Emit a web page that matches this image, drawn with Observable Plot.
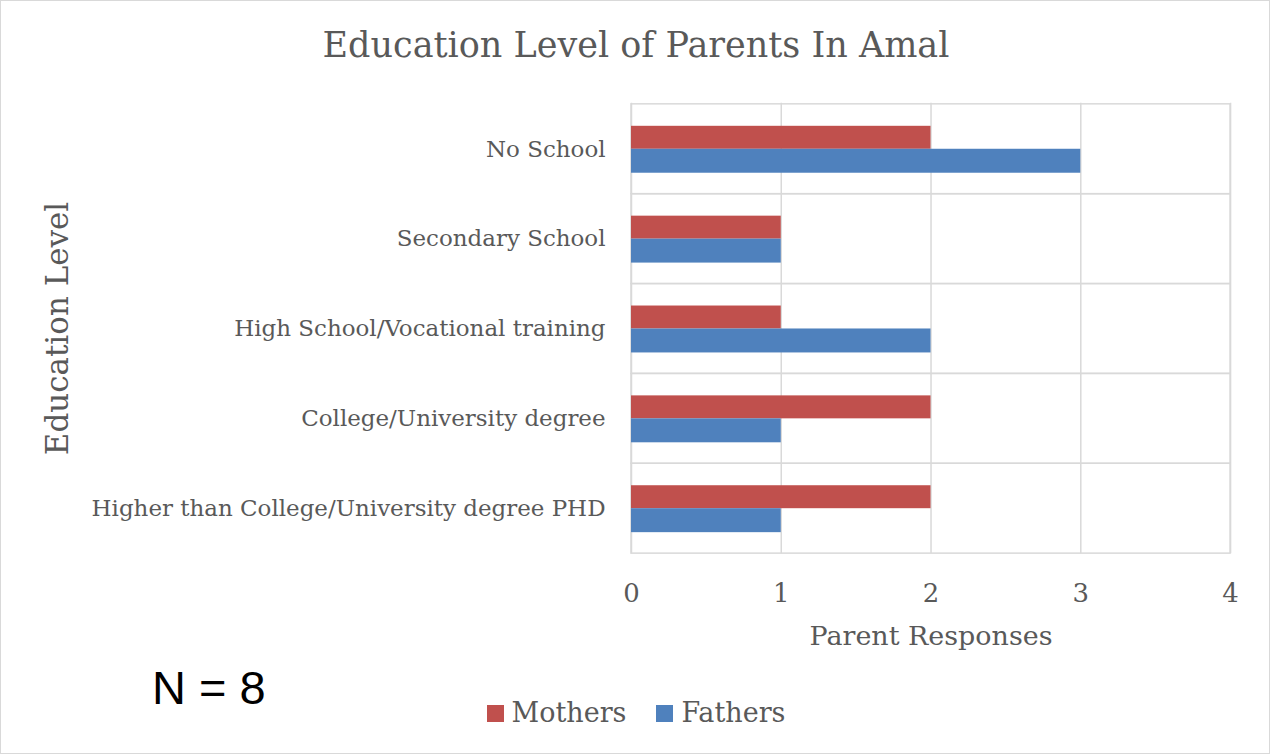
<!DOCTYPE html>
<html>
<head>
<meta charset="utf-8">
<script src="https://cdn.jsdelivr.net/npm/d3@7"></script>
<script src="https://cdn.jsdelivr.net/npm/@observablehq/plot@0.6"></script>
<style>
  html, body { margin: 0; padding: 0; background: #fff; }
  #wrap { position: relative; width: 1268px; height: 752px; border: 1px solid #d9d9d9; overflow: hidden; }
  #wrap svg { position: absolute; left: -1px; top: -1px; }
  .serif { font-family: "DejaVu Serif", serif; color: #595959; }
  #title { position: absolute; left: 0; width: 1270px; top: 24px; text-align: center; font-size: 35px; }
  #nlabel { position: absolute; left: 151px; top: 659px; font-family: "Liberation Sans", Arial, sans-serif; font-size: 47px; color: #000; }
  #legend { position: absolute; left: 0; width: 1270px; top: 696px; text-align: center; font-size: 27px; }
  #legend span.sw { display: inline-block; width: 17px; height: 17px; margin-right: 8px; vertical-align: 0px; }
  #legend span.item { margin: 0 15px; }
</style>
</head>
<body>
<div id="wrap">
  <div id="title" class="serif">Education Level of Parents In Amal</div>
  <div id="nlabel">N = 8</div>
  <div id="legend" class="serif"></div>
</div>
<script>
const categories = [
  "No School",
  "Secondary School",
  "High School/Vocational training",
  "College/University degree",
  "Higher than College/University degree PHD"
];
const mothers = [2, 1, 1, 2, 2];
const fathers = [3, 1, 2, 1, 1];
const seriesNames = ["Mothers", "Fathers"];
const seriesColors = ["#c0504d", "#4f81bd"];
const xTicks = [0, 1, 2, 3, 4];
const xLabel = "Parent Responses";
const yLabel = "Education Level";

const motherRows = categories.map((c, i) => ({category: c, value: mothers[i], series: "Mothers"}));
const fatherRows = categories.map((c, i) => ({category: c, value: fathers[i], series: "Fathers"}));

const fontFam = '"DejaVu Serif", serif';

const chart = Plot.plot({
  width: 1270,
  height: 754,
  marginTop: 103,
  marginLeft: 632,
  marginRight: 38,
  marginBottom: 200,
  style: {fontFamily: fontFam, fontSize: "23px", color: "#595959", background: "transparent"},
  x: {domain: [0, 4], ticks: xTicks, tickFormat: "d", label: null},
  y: {domain: categories, padding: 0, label: null},
  color: {domain: seriesNames, range: seriesColors},
  marks: [
    Plot.gridX(xTicks, {stroke: "#d9d9d9", strokeOpacity: 1, strokeWidth: 1.5}),
    Plot.barX(categories, {y: d => d, x1: 0, x2: 4, fill: "none", stroke: "#d9d9d9", strokeWidth: 1.5}),
    Plot.barX(motherRows, {y: "category", x: "value", fill: "series", insetTop: 22, insetBottom: 45}),
    Plot.barX(fatherRows, {y: "category", x: "value", fill: "series", insetTop: 45, insetBottom: 21}),
    Plot.axisX(xTicks, {tickSize: 0, tickPadding: 30, fontSize: 26, tickFormat: "d", label: null}),
    Plot.axisY(categories, {tickSize: 0, tickPadding: 26, fontSize: 23, label: null}),
    Plot.text([xLabel], {frameAnchor: "bottom", lineAnchor: "middle", dy: 83, text: d => d, fontSize: 27, fill: "#595959"}),
    Plot.text([yLabel], {frameAnchor: "left", dx: -574, textAnchor: "middle", rotate: -90, text: d => d, fontSize: 31, fill: "#595959"})
  ]
});
document.getElementById("wrap").appendChild(chart);

const legend = document.getElementById("legend");
seriesNames.forEach((s, i) => {
  const item = document.createElement("span");
  item.className = "item";
  item.innerHTML = `<span class="sw" style="background:${seriesColors[i]}"></span>${s}`;
  legend.appendChild(item);
});
</script>
</body>
</html>
